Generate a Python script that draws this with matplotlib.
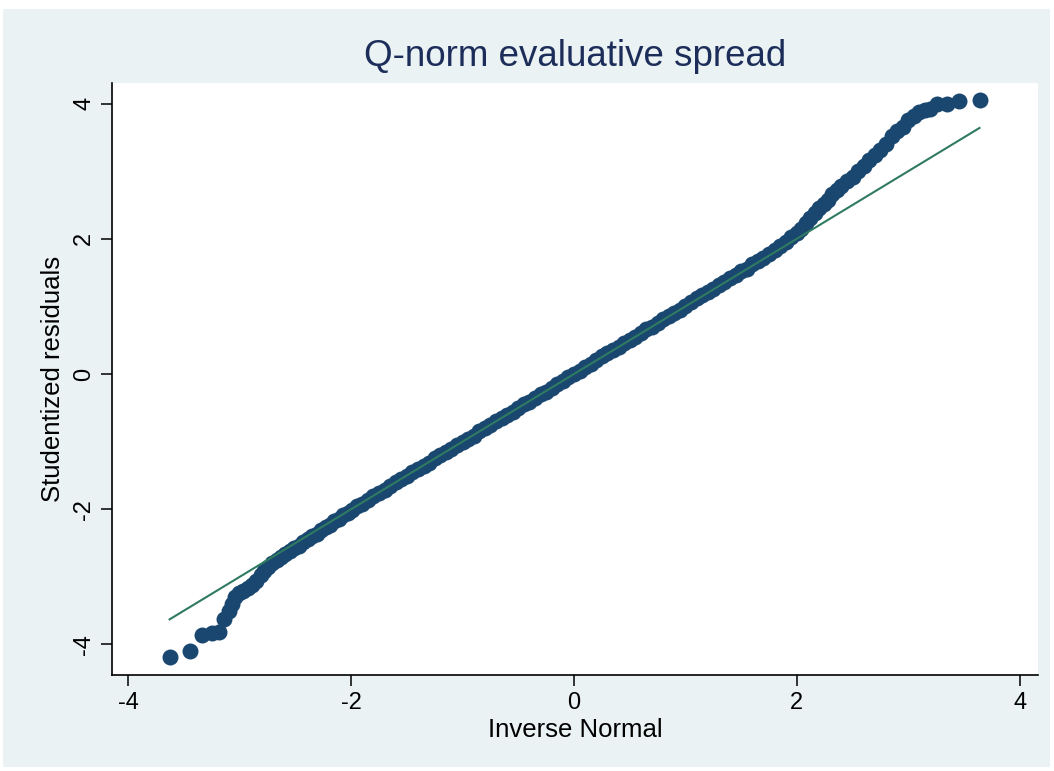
import matplotlib
matplotlib.use("Agg")
import matplotlib.pyplot as plt
from matplotlib.patches import Rectangle

plt.rcParams['font.family'] = ['Liberation Sans', 'DejaVu Sans']

# lower tail of the quantile plot (inverse normal, studentized residual)
tail_lo_x = [-3.63, -3.45, -3.34, -3.25, -3.19, -3.14, -3.10, -3.07, -3.04, -3.01,
             -2.97, -2.93, -2.89, -2.85, -2.81, -2.78, -2.75, -2.71, -2.67, -2.63,
             -2.59, -2.55, -2.51, -2.47, -2.43, -2.39, -2.35, -2.31, -2.27, -2.23,
             -2.19, -2.15, -2.11, -2.07, -2.03, -1.99, -1.95]
tail_lo_y = [-4.19, -4.10, -3.86, -3.83, -3.82, -3.62, -3.50, -3.40, -3.30, -3.24,
             -3.21, -3.17, -3.12, -3.06, -2.98, -2.92, -2.86, -2.80, -2.75, -2.71,
             -2.66, -2.62, -2.58, -2.54, -2.49, -2.44, -2.40, -2.36, -2.31, -2.27,
             -2.23, -2.18, -2.14, -2.09, -2.05, -2.01, -1.96]

# body
body_x = [-1.90, -1.85, -1.80, -1.75, -1.70, -1.65, -1.60, -1.55, -1.50, -1.45,
          -1.40, -1.35, -1.30, -1.25, -1.20, -1.15, -1.10, -1.05, -1.00, -0.95,
          -0.90, -0.85, -0.80, -0.75, -0.70, -0.65, -0.60, -0.55, -0.50, -0.45,
          -0.40, -0.35, -0.30, -0.25, -0.20, -0.15, -0.10, -0.05, 0.00, 0.05,
          0.10, 0.15, 0.20, 0.25, 0.30, 0.35, 0.40, 0.45, 0.50, 0.55,
          0.60, 0.65, 0.70, 0.75, 0.80, 0.85, 0.90, 0.95, 1.00, 1.05,
          1.10, 1.15, 1.20, 1.25, 1.30, 1.35, 1.40, 1.45, 1.50, 1.55,
          1.60, 1.65, 1.70, 1.75, 1.80, 1.85, 1.90]
body_y = [-1.92, -1.87, -1.81, -1.76, -1.72, -1.66, -1.60, -1.56, -1.51, -1.45,
          -1.40, -1.36, -1.31, -1.25, -1.20, -1.16, -1.11, -1.05, -1.00, -0.96,
          -0.91, -0.85, -0.80, -0.76, -0.70, -0.65, -0.61, -0.56, -0.50, -0.45,
          -0.41, -0.35, -0.30, -0.26, -0.20, -0.15, -0.10, -0.05, 0.00, 0.05,
          0.11, 0.15, 0.20, 0.26, 0.31, 0.35, 0.40, 0.46, 0.50, 0.55,
          0.61, 0.66, 0.70, 0.75, 0.81, 0.86, 0.90, 0.95, 1.01, 1.06,
          1.13, 1.17, 1.22, 1.26, 1.31, 1.36, 1.42, 1.47, 1.52, 1.56,
          1.62, 1.67, 1.72, 1.78, 1.84, 1.90, 1.96]

# upper tail
tail_hi_x = [1.95, 2.00, 2.04, 2.08, 2.12, 2.16, 2.20, 2.24, 2.28, 2.32,
             2.36, 2.40, 2.45, 2.50, 2.55, 2.60, 2.65, 2.70, 2.75, 2.80,
             2.85, 2.90, 2.95, 3.00, 3.05, 3.10, 3.15, 3.20, 3.26, 3.35,
             3.46, 3.64]
tail_hi_y = [2.02, 2.08, 2.15, 2.24, 2.31, 2.38, 2.45, 2.52, 2.58, 2.66,
             2.72, 2.78, 2.85, 2.92, 3.00, 3.08, 3.16, 3.24, 3.32, 3.40,
             3.52, 3.60, 3.65, 3.76, 3.82, 3.88, 3.91, 3.92, 4.00, 3.99,
             4.04, 4.06]

# normal reference line end points
ref_x = [-3.63, 3.64]
ref_y = [-3.63, 3.64]

xticks = [-4, -2, 0, 2, 4]
yticks = [-4, -2, 0, 2, 4]

fig = plt.figure(figsize=(10.54, 7.71), dpi=100, facecolor='white')
fig.patches.append(Rectangle((3 / 1054, 1 - 767 / 771), 1047 / 1054, 758 / 771,
                             transform=fig.transFigure, facecolor='#eaf2f3',
                             edgecolor='none', zorder=-10))

ax = fig.add_axes([112 / 1054, 1 - 675 / 771, 926 / 1054, 592 / 771])
ax.set_facecolor('white')

qx = tail_lo_x + body_x + tail_hi_x
qy = tail_lo_y + body_y + tail_hi_y
ax.plot(qx, qy, 'o', color='#1a476f', markersize=11.5, markeredgewidth=0, zorder=2)
ax.plot(ref_x, ref_y, color='#2f7a62', linewidth=1.5, zorder=3)

ax.set_xlim(-4.147, 4.165)
ax.set_ylim(-4.453, 4.305)
ax.set_xticks(xticks)
ax.set_yticks(yticks)
ax.set_xticklabels([str(t) for t in xticks])
ax.set_yticklabels([str(t) for t in yticks], rotation=90, va='center')
ax.tick_params(axis='both', direction='out', length=8, width=1.1, labelsize=17,
               colors='black', pad=4)

for s in ['top', 'right']:
    ax.spines[s].set_visible(False)
for s in ['left', 'bottom']:
    ax.spines[s].set_linewidth(1.2)
    ax.spines[s].set_color('black')

ax.set_xlabel('Inverse Normal', fontsize=18.5, labelpad=3)
ax.set_ylabel('Studentized residuals', fontsize=18.5, labelpad=6)
ax.set_title('Q-norm evaluative spread', fontsize=26.5, color='#1c2d5a', pad=12)

fig.savefig('out.png', dpi=100, facecolor=fig.get_facecolor())
